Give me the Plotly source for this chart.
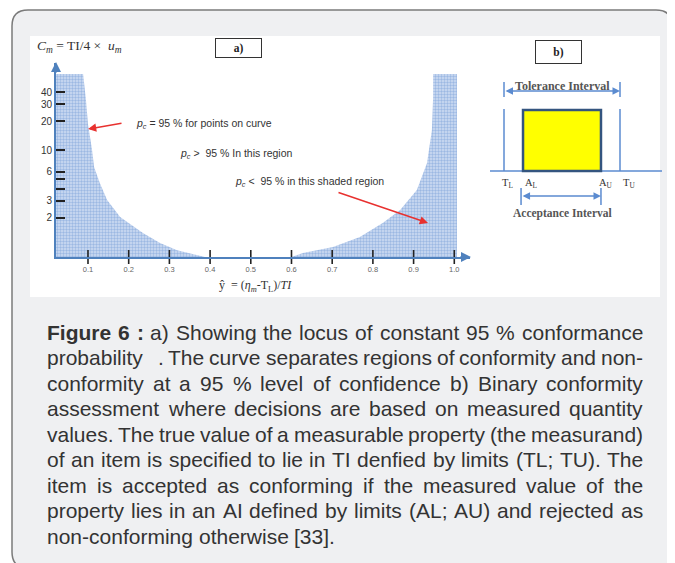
import plotly.graph_objects as go

# ---------------- data : panel a ----------------
x_tick_vals = [0.1, 0.2, 0.3, 0.4, 0.5, 0.6, 0.7, 0.8, 0.9, 1.0]
x_tick_text = ["0.1", "0.2", "0.3", "0.4", "0.5", "0.6", "0.7", "0.8", "0.9", "1.0"]
y_tick_vals = [2, 3, 4, 5, 6, 10, 20, 30, 40]
y_tick_text = ["2", "3", "", "", "6", "10", "20", "30", "40"]

left_curve_y = [0.088, 0.095, 0.100, 0.110, 0.115, 0.129, 0.147, 0.179, 0.235, 0.277, 0.319, 0.387]
left_curve_cm = [61.4, 33.1, 18.7, 10.1, 6.73, 4.60, 3.07, 2.05, 1.40, 1.10, 0.93, 0.79]
right_curve_y = [0.600, 0.628, 0.702, 0.768, 0.825, 0.867, 0.908, 0.933, 0.945, 0.948, 0.948]
right_curve_cm = [0.79, 0.87, 1.00, 1.27, 1.78, 2.42, 3.89, 7.40, 16.2, 35.6, 61.4]

y_hat_min, y_hat_max = 0.0214, 1.0386   # axis extent
region_right_edge = 1.0066
cm_top, cm_bottom = 61.4, 0.79

# ---------------- data : panel b ----------------
b_limit_labels = ["T<sub>L</sub>", "A<sub>L</sub>", "A<sub>U</sub>", "T<sub>U</sub>"]
b_limit_pos = [0.0, 0.164, 0.836, 1.0]
b_accept_height = 1.0

# ---------------- caption ----------------
caption_lines = [
    "Figure 6 : a) Showing the locus of constant 95 % conformance",
    "probability   . The curve separates regions of conformity and non-",
    "conformity at a 95 % level of confidence b) Binary conformity",
    "assessment where decisions are based on measured quantity",
    "values. The true value of a measurable property (the measurand)",
    "of an item is specified to lie in TI denfied by limits (TL; TU). The",
    "item is accepted as conforming if the measured value of the",
    "property lies in an AI defined by limits (AL; AU) and rejected as",
    "non-conforming otherwise [33].",
]
bold_words = 3  # "Figure", "6", ":"

# ------------------------------------------------
OFF = 8                      # page body margin
W, H = 675 - OFF, 563 - OFF


def PX(x):
    return (x - OFF) / W


def PY(y):
    return 1 - (y - OFF) / H


BLUE = "#4f81bd"
SHADE = dict(shape=".", bgcolor="#d0ddf2", fgcolor="#6893d4", size=3, solidity=0.5)

fig = go.Figure()

fig.add_trace(go.Scatter(
    x=[y_hat_min] + left_curve_y + [y_hat_min],
    y=[cm_top] + left_curve_cm + [cm_bottom],
    fill="toself", mode="lines", line=dict(width=0, color="#6893d4"),
    fillcolor="rgba(0,0,0,0)", fillpattern=SHADE, hoverinfo="skip", showlegend=False))
fig.add_trace(go.Scatter(
    x=right_curve_y + [region_right_edge, region_right_edge],
    y=right_curve_cm + [cm_top, cm_bottom],
    fill="toself", mode="lines", line=dict(width=0, color="#6893d4"),
    fillcolor="rgba(0,0,0,0)", fillpattern=SHADE, hoverinfo="skip", showlegend=False))
fig.add_trace(go.Scatter(
    x=x_tick_vals, y=[cm_bottom] * len(x_tick_vals), mode="markers",
    marker=dict(symbol="line-ns", size=10, line=dict(width=1.6, color="#222")),
    cliponaxis=False, hoverinfo="skip", showlegend=False))

fig.update_layout(
    width=W, height=H, margin=dict(l=0, r=0, t=0, b=0),
    paper_bgcolor="white", plot_bgcolor="rgba(0,0,0,0)", showlegend=False,
    xaxis=dict(domain=[PX(56), PX(470)], range=[y_hat_min, y_hat_max],
               showgrid=False, zeroline=False, showline=True, linecolor=BLUE, linewidth=2,
               tickvals=x_tick_vals, ticktext=x_tick_text, ticks="",
               tickfont=dict(family="Liberation Sans", size=7.5, color="#666"),
               ticklabelstandoff=4),
    yaxis=dict(domain=[PY(257), PY(63)], type="log",
               range=[-0.1024, 1.903], showgrid=False, zeroline=False,
               showline=True, linecolor=BLUE, linewidth=2,
               tickvals=y_tick_vals, ticktext=y_tick_text, ticks="inside",
               ticklen=9, tickwidth=1.5, tickcolor="#222",
               tickfont=dict(family="Liberation Sans", size=10, color="#333")),
    xaxis2=dict(domain=[PX(490), PX(662)], range=[-0.1207, 1.3621], visible=False,
                anchor="y2"),
    yaxis2=dict(domain=[PY(220), PY(70)], range=[-0.8033, 1.6557], visible=False,
                anchor="x2"),
)

shapes = []
x0, x1, y0, y1, r = 12, 672, 10, 568, 16
rx, ry = r / W, r / H
X0, X1, Y0, Y1 = PX(x0), PX(x1), PY(y0), PY(y1)
path = (f"M {X0+rx},{Y0} L {X1-rx},{Y0} Q {X1},{Y0} {X1},{Y0-ry} "
        f"L {X1},{Y1+ry} Q {X1},{Y1} {X1-rx},{Y1} L {X0+rx},{Y1} Q {X0},{Y1} {X0},{Y1+ry} "
        f"L {X0},{Y0-ry} Q {X0},{Y0} {X0+rx},{Y0} Z")
shapes.append(dict(type="path", xref="paper", yref="paper", path=path,
                   fillcolor="#eff0f2", line=dict(color="#7b7b7b", width=1.5), layer="below"))
shapes.append(dict(type="rect", xref="paper", yref="paper", x0=PX(30), x1=PX(660),
                   y0=PY(297), y1=PY(36), fillcolor="white", line=dict(width=0), layer="below"))

LB = "#5b8bd0"
TL, AL, AU, TU = b_limit_pos
shapes.append(dict(type="line", xref="x2 domain", yref="y2", x0=0, x1=1, y0=0, y1=0,
                   line=dict(color=LB, width=1.5)))
for p in (TL, TU):
    shapes.append(dict(type="line", xref="x2", yref="y2", x0=p, x1=p, y0=0, y1=1.016,
                       line=dict(color=LB, width=1.5)))
    shapes.append(dict(type="line", xref="x2", yref="y2", x0=p, x1=p, y0=1.213, y1=1.459,
                       line=dict(color=LB, width=1.5)))
for p in (AL - 0.017, AU):
    shapes.append(dict(type="line", xref="x2", yref="y2", x0=p, x1=p, y0=-0.279, y1=-0.557,
                       line=dict(color=LB, width=1.5)))
shapes.append(dict(type="rect", xref="x2", yref="y2", x0=AL, x1=AU, y0=0, y1=b_accept_height,
                   fillcolor="#ffff00", line=dict(color="#34557f", width=2.5)))
fig.update_layout(shapes=shapes)

ann = []
ann.append(dict(xref="paper", yref="paper", x=PX(471), y=PY(257), ax=-12, ay=0, text="",
                showarrow=True, arrowhead=2, arrowsize=1, arrowwidth=2, arrowcolor=BLUE))
ann.append(dict(xref="paper", yref="paper", x=PX(56), y=PY(62), ax=0, ay=12, text="",
                showarrow=True, arrowhead=2, arrowsize=1, arrowwidth=2, arrowcolor=BLUE))
ann.append(dict(xref="paper", yref="paper", x=PX(35), y=PY(47), xanchor="left", yanchor="middle",
                text="<i>C</i><sub><i>m</i></sub> = TI/4 ×  <i>u</i><sub><i>m</i></sub>",
                showarrow=False, font=dict(family="Liberation Serif", size=13.5, color="#333")))
ann.append(dict(xref="paper", yref="paper", x=PX(238.5), y=PY(48), xanchor="center",
                yanchor="middle", text="<b>a)</b>",
                showarrow=False, width=45, height=18, borderpad=0, bordercolor="#333",
                borderwidth=1, font=dict(family="Liberation Serif", size=11.5, color="#222")))
ann.append(dict(xref="paper", yref="paper", x=PX(558.5), y=PY(52), xanchor="center",
                yanchor="middle", text="<b>b)</b>",
                showarrow=False, width=45, height=22, borderpad=0, bordercolor="#333",
                borderwidth=1, font=dict(family="Liberation Serif", size=11.5, color="#222")))
SMALL = dict(family="Liberation Sans", size=10.5, color="#333")
ann.append(dict(xref="paper", yref="paper", x=PX(134), y=PY(124), xanchor="left",
                yanchor="middle", text="<i>p</i><sub><i>c</i></sub> = 95 % for points on curve",
                showarrow=False, font=SMALL))
ann.append(dict(xref="paper", yref="paper", x=PX(178), y=PY(154), xanchor="left",
                yanchor="middle", text="<i>p</i><sub><i>c</i></sub> &gt;  95 % In this region",
                showarrow=False, font=SMALL))
ann.append(dict(xref="paper", yref="paper", x=PX(233), y=PY(182), xanchor="left",
                yanchor="middle", text="<i>p</i><sub><i>c</i></sub> &lt;  95 % in this shaded region",
                showarrow=False, font=SMALL))
ann.append(dict(xref="paper", yref="paper", x=PX(88), y=PY(129),
                ax=123 - 88, ay=123 - 129, text="", showarrow=True, arrowhead=2,
                arrowsize=1.1, arrowwidth=1.5, arrowcolor="#e8312f"))
ann.append(dict(xref="paper", yref="paper", x=PX(428), y=PY(223),
                ax=337 - 428, ay=192 - 223, text="", showarrow=True, arrowhead=2,
                arrowsize=1.1, arrowwidth=1.5, arrowcolor="#e8312f"))
ann.append(dict(xref="paper", yref="paper", x=PX(255), y=PY(286), yanchor="middle",
                text="ŷ  = (<i>η</i><sub><i>m</i></sub>-T<sub>L</sub>)/<i>TI</i>",
                showarrow=False, font=dict(family="Liberation Serif", size=12, color="#333")))

ann.append(dict(xref="x2", yref="y2", x=TU, y=1.311, ax=TL, ay=1.311, axref="x2", ayref="y2",
                text="", showarrow=True, arrowhead=2, arrowside="end+start", arrowsize=1,
                arrowwidth=1.5, arrowcolor=LB, standoff=0, startstandoff=0))
ann.append(dict(xref="x2", yref="y2", x=(TL + TU) / 2, y=1.40, yanchor="middle",
                text="<b>Tolerance Interval</b>",
                showarrow=False, font=dict(family="Liberation Serif", size=12, color="#555")))
ann.append(dict(xref="x2", yref="y2", x=AU, y=-0.41, ax=AL - 0.017, ay=-0.41, axref="x2",
                ayref="y2", text="", showarrow=True, arrowhead=2, arrowside="end+start",
                arrowsize=1, arrowwidth=1.5, arrowcolor=LB, standoff=0, startstandoff=0))
ann.append(dict(xref="x2", yref="y2", x=(AL + AU) / 2, y=-0.69, yanchor="middle",
                text="<b>Acceptance Interval</b>",
                showarrow=False, font=dict(family="Liberation Serif", size=11.5, color="#555")))
for lab, p, sh in zip(b_limit_labels, b_limit_pos, [3, 8, 5, 9]):
    ann.append(dict(xref="x2", yref="y2", x=p, y=-0.21, xshift=sh, yanchor="middle", text=lab,
                    showarrow=False, font=dict(family="Liberation Serif", size=10.5, color="#333")))

# caption, justified word by word (Arial-compatible metrics)
REG = {' ': 278, 'a': 556, 'b': 556, 'c': 500, 'd': 556, 'e': 556, 'f': 278, 'g': 556, 'h': 556,
       'i': 222, 'j': 222, 'k': 500, 'l': 222, 'm': 833, 'n': 556, 'o': 556, 'p': 556, 'q': 556,
       'r': 333, 's': 500, 't': 278, 'u': 556, 'v': 500, 'w': 722, 'x': 500, 'y': 500, 'z': 500,
       'A': 667, 'B': 667, 'C': 722, 'D': 722, 'E': 667, 'F': 611, 'G': 778, 'H': 722, 'I': 278,
       'L': 556, 'M': 833, 'N': 722, 'O': 778, 'P': 667, 'S': 667, 'T': 611, 'U': 722,
       '.': 278, ',': 278, ':': 278, ';': 278, '(': 333, ')': 333, '[': 278, ']': 278,
       '%': 889, '-': 333}
BOLD = {'F': 611, 'i': 278, 'g': 611, 'u': 611, 'r': 389, 'e': 556, ':': 333}
CAP_FONT = "Liberation Sans"
FS = 21


def width(word, bold):
    tot = 0
    for ch in word:
        tot += BOLD.get(ch, REG.get(ch, 556)) if bold else REG.get(ch, 556)
    return tot / 1000 * FS


left, right = 46, 642
base0, lsp = 339, 25.5
for i, line in enumerate(caption_lines):
    words = line.split(" ")
    bolds = [i == 0 and k < bold_words for k in range(len(words))]
    ws = [width(w, b) for w, b in zip(words, bolds)]
    if i < len(caption_lines) - 1:
        gap = (right - left - sum(ws)) / (len(words) - 1)
    else:
        gap = width(" ", False)
    xc = left
    yc = base0 + lsp * i - 7
    for w, b, wd in zip(words, bolds, ws):
        if w:
            ann.append(dict(xref="paper", yref="paper", x=PX(xc), y=PY(yc), xanchor="left",
                            yanchor="middle", text=(f"<b>{w}</b>" if b else w), showarrow=False,
                            borderpad=0, font=dict(family=CAP_FONT, size=FS, color="#333")))
        xc += wd + gap

fig.update_layout(annotations=ann)
fig.write_html("out.html")
